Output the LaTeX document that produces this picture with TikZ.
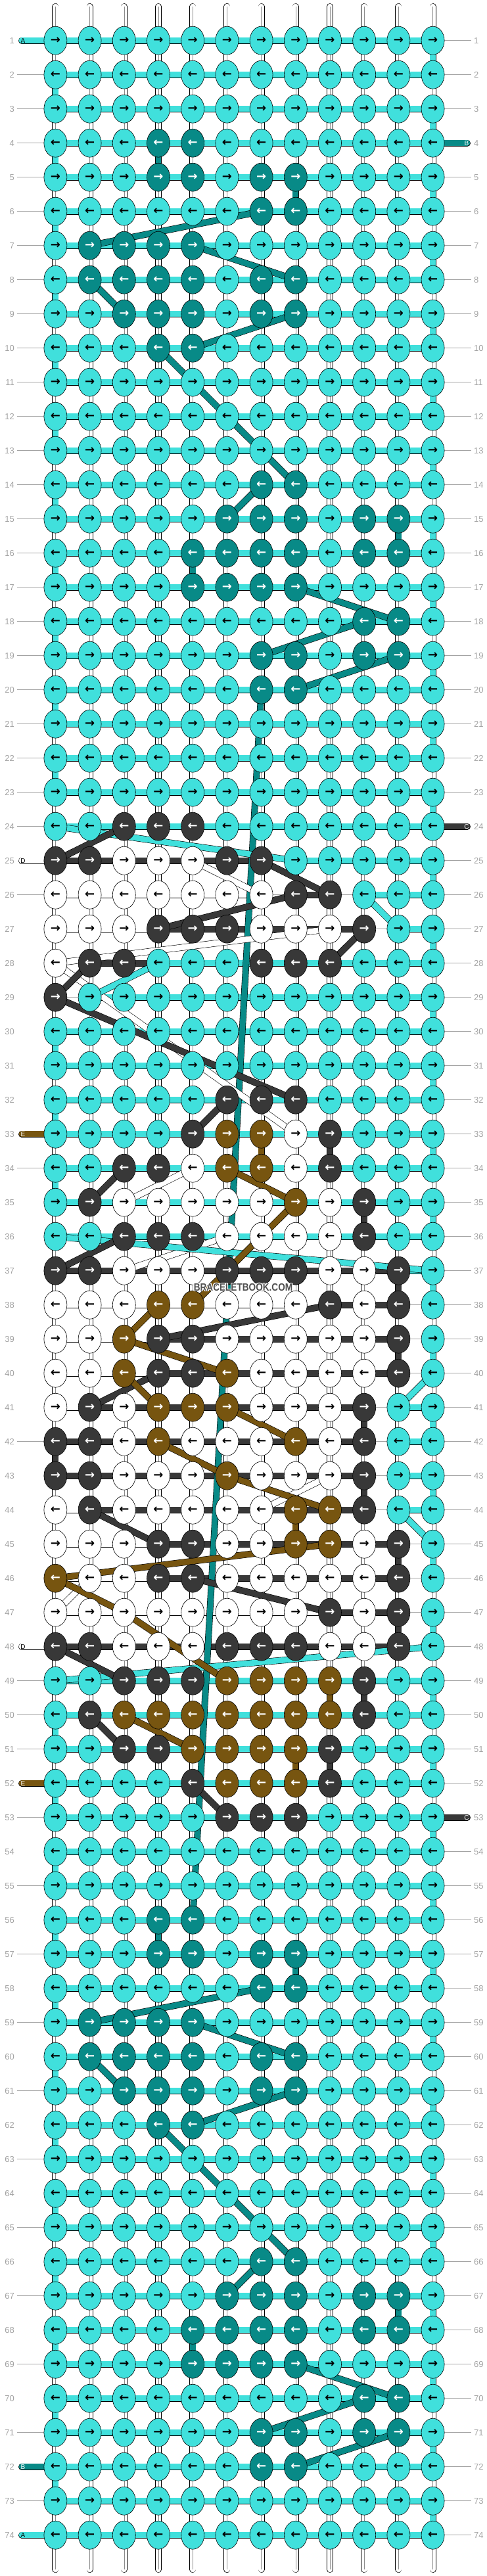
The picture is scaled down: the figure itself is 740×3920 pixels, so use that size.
\documentclass[tikz,border=0pt]{standalone}
\usepackage{fontspec}
\setmainfont{Liberation Sans}
\newfontfamily\arrowfont{DejaVu Sans}
\usetikzlibrary{shapes.geometric}

\definecolor{strandA}{HTML}{40E0DC}
\definecolor{strandB}{HTML}{088A87}
\definecolor{strandC}{HTML}{383838}
\definecolor{strandD}{HTML}{FFFFFF}
\definecolor{strandE}{HTML}{775510}
\definecolor{tipA}{HTML}{000000}
\definecolor{tipB}{HTML}{FFFFFF}
\definecolor{tipC}{HTML}{FFFFFF}
\definecolor{tipD}{HTML}{000000}
\definecolor{tipE}{HTML}{FFFFFF}
\definecolor{rowgray}{HTML}{A3A3A3}
\definecolor{markgray}{HTML}{505050}

\pgfdeclarelayer{strands}
\pgfdeclarelayer{threads}
\pgfsetlayers{strands,threads,main}

\begin{document}
\begin{tikzpicture}[x=1pt, y=-1pt,
    knot/.style={ellipse, draw=black, line width=0.6pt, fill=strand#1, text=tip#1,
      minimum width=35pt, minimum height=43pt, inner sep=0pt,
      font=\arrowfont\bfseries\fontsize{18}{18}\selectfont},
    thread/.style={draw=black, line width=0.6pt, double=strand#1, double distance=8.8pt},
    warp/.style={thread=D, line cap=round},
    nothread/.style={draw=rowgray, line width=0.5pt},
    rowlabel/.style={text=rowgray, inner sep=0pt, font=\fontsize{13}{13}\selectfont},
    tag/.style={text=tip#1, inner sep=0pt, font=\fontsize{10}{10}\selectfont},
    watermark/.style={text=#1, inner sep=0pt, font=\bfseries\fontsize{16}{16}\selectfont}
  ]
  \useasboundingbox (0,0) rectangle (740,3920);

  % knots
  \foreach \knots [count=\r] in {
    {A,A,A,A,A,A,A,A,A,A,A,A}, {A,A,A,A,A,A,A,A,A,A,A,A}, {A,A,A,A,A,A,A,A,A,A,A,A},
    {A,A,A,B,B,A,A,A,A,A,A,A}, {A,A,A,B,B,A,B,B,A,A,A,A}, {A,A,A,A,A,A,B,B,A,A,A,A},
    {A,B,B,B,B,A,A,A,A,A,A,A}, {A,B,B,B,B,A,B,B,A,A,A,A}, {A,A,B,B,B,A,B,B,A,A,A,A},
    {A,A,A,B,B,A,A,A,A,A,A,A}, {A,A,A,A,A,A,A,A,A,A,A,A}, {A,A,A,A,A,A,A,A,A,A,A,A},
    {A,A,A,A,A,A,A,A,A,A,A,A}, {A,A,A,A,A,A,B,B,A,A,A,A}, {A,A,A,A,A,B,B,B,A,B,B,A},
    {A,A,A,A,B,B,B,B,A,B,B,A}, {A,A,A,A,B,B,B,B,A,A,A,A}, {A,A,A,A,A,A,A,A,A,B,B,A},
    {A,A,A,A,A,A,B,B,A,B,B,A}, {A,A,A,A,A,A,B,B,A,A,A,A}, {A,A,A,A,A,A,A,A,A,A,A,A},
    {A,A,A,A,A,A,A,A,A,A,A,A}, {A,A,A,A,A,A,A,A,A,A,A,A}, {A,A,C,C,C,A,A,A,A,A,A,A},
    {C,C,D,D,D,C,C,A,A,A,A,A}, {D,D,D,D,D,D,D,C,C,A,A,A}, {D,D,D,C,C,C,D,D,D,C,A,A},
    {D,C,C,A,A,A,C,C,C,A,A,A}, {C,A,A,A,A,A,A,A,A,A,A,A}, {A,A,A,A,A,A,A,A,A,A,A,A},
    {A,A,A,A,A,A,A,A,A,A,A,A}, {A,A,A,A,A,C,C,C,A,A,A,A}, {A,A,A,A,C,E,E,D,C,A,A,A},
    {A,A,C,C,D,E,E,D,C,A,A,A}, {A,C,D,D,D,D,D,E,D,C,A,A}, {A,A,C,C,C,D,D,D,D,C,A,A},
    {C,C,D,D,D,C,C,C,D,D,C,A}, {D,D,D,E,E,D,D,D,C,D,C,A}, {D,D,E,C,C,D,D,D,D,D,C,A},
    {D,D,E,C,C,E,D,D,D,D,C,A}, {D,C,D,E,E,E,D,D,D,C,A,A}, {C,C,D,E,D,D,D,E,D,C,A,A},
    {C,C,D,D,D,E,D,D,D,C,A,A}, {D,C,D,D,D,D,D,E,E,C,A,A}, {D,D,D,C,C,D,D,E,E,D,C,A},
    {E,D,D,C,C,D,D,D,D,D,C,A}, {D,D,D,D,D,D,D,D,C,D,C,A}, {C,C,D,D,D,C,C,C,D,D,C,A},
    {A,A,C,C,C,E,E,E,E,C,A,A}, {A,C,E,E,E,E,E,E,E,C,A,A}, {A,A,C,C,E,E,E,E,C,A,A,A},
    {A,A,A,A,C,E,E,E,C,A,A,A}, {A,A,A,A,A,C,C,C,A,A,A,A}, {A,A,A,A,A,A,A,A,A,A,A,A},
    {A,A,A,A,A,A,A,A,A,A,A,A}, {A,A,A,B,B,A,A,A,A,A,A,A}, {A,A,A,B,B,A,B,B,A,A,A,A},
    {A,A,A,A,A,A,B,B,A,A,A,A}, {A,B,B,B,B,A,A,A,A,A,A,A}, {A,B,B,B,B,A,B,B,A,A,A,A},
    {A,A,B,B,B,A,B,B,A,A,A,A}, {A,A,A,B,B,A,A,A,A,A,A,A}, {A,A,A,A,A,A,A,A,A,A,A,A},
    {A,A,A,A,A,A,A,A,A,A,A,A}, {A,A,A,A,A,A,A,A,A,A,A,A}, {A,A,A,A,A,A,B,B,A,A,A,A},
    {A,A,A,A,A,B,B,B,A,B,B,A}, {A,A,A,A,B,B,B,B,A,B,B,A}, {A,A,A,A,B,B,B,B,A,A,A,A},
    {A,A,A,A,A,A,A,A,A,B,B,A}, {A,A,A,A,A,A,B,B,A,B,B,A}, {A,A,A,A,A,A,B,B,A,A,A,A},
    {A,A,A,A,A,A,A,A,A,A,A,A}, {A,A,A,A,A,A,A,A,A,A,A,A}%
  }{
    \foreach \k [count=\c] in \knots {
      \ifodd\r \def\knotarrow{→}\else \def\knotarrow{←}\fi
      \node[knot=\k] (k\r-\c) at ({84.4+52.2*(\c-1)}, {61.7+52*(\r-1)}) {\knotarrow};
    }
  }

  \foreach \dx/\dy [count=\i] in {-1.2/0, 1.2/0, 0/-1.2, 0/1.2, -0.9/-0.9, 0.9/0.9, -0.9/0.9, 0.9/-0.9}
    \node[watermark=white] (halo\i) at (370+\dx, 1959+\dy) {\scalebox{0.85}[1]{BRACELETBOOK.COM}};
  \node[watermark=markgray] (mark) at (370,1959) {\scalebox{0.85}[1]{BRACELETBOOK.COM}};

  \begin{pgfonlayer}{strands}
    \foreach \c in {1,...,12} {
      \coordinate (top\c) at ({84.4+52.2*(\c-1)}, 10);
      \coordinate (bottom\c) at ({84.4+52.2*(\c-1)}, 3910);
      \draw[warp] (top\c) -- (bottom\c);
      \draw[black!45, line width=0.4pt] (top\c) -- (bottom\c);
    }
    \foreach \r in {1,...,23,49,50,...,74}
      \foreach \c in {1,...,11} {
        \pgfmathtruncatemacro\n{\c+1}
        \draw[thread=A] (k\r-\c.center) -- (k\r-\n.center);
      }
    \foreach \gaps [count=\r from 24] in {
      {A,A,A,A,A,A,A,A,A,A,A}, {C,C,C,C,C,C,N,A,A,A,A}, {D,D,D,D,D,D,N,C,N,A,A},
      {D,D,D,C,C,C,C,C,C,N,A}, {N,C,C,A,A,A,A,A,A,A,A}, {N,A,A,A,A,A,A,A,A,A,A},
      {A,A,A,A,A,A,A,A,A,A,A}, {A,A,A,A,A,A,A,A,A,A,A}, {A,A,A,A,A,A,A,A,A,A,A},
      {A,A,A,A,A,A,A,A,A,A,A}, {A,A,A,A,A,A,A,A,A,A,A}, {A,A,A,A,A,A,A,A,A,A,A},
      {A,A,A,A,A,A,A,A,A,A,A}, {C,C,C,C,C,C,C,C,C,C,A}, {D,D,D,D,D,D,D,D,C,C,N},
      {D,D,D,C,C,C,C,C,C,C,N}, {D,D,D,C,C,C,C,C,C,C,N}, {D,C,C,C,C,C,C,C,C,N,A},
      {C,C,C,C,C,C,C,C,C,N,A}, {C,C,C,C,C,C,C,C,C,N,A}, {D,C,C,C,C,C,C,C,C,N,A},
      {D,D,D,C,C,C,C,C,C,C,N}, {D,D,D,C,C,C,C,C,C,C,N}, {D,D,D,D,D,D,D,D,C,C,N},
      {C,C,C,C,C,C,C,C,C,C,N}%
    }{
      \foreach \g [count=\c] in \gaps {
        \pgfmathtruncatemacro\n{\c+1}
        \if\g N\draw[nothread] (k\r-\c.center) -- (k\r-\n.center);
        \else\draw[thread=\g] (k\r-\c.center) -- (k\r-\n.center);\fi
      }
    }
    % turns between rows
    \foreach \r in {1,3,...,73} {
      \pgfmathtruncatemacro\n{\r+1}
      \draw[thread=A] (k\r-12.center) -- (k\n-12.center);
    }
    \foreach \r in {2,4,...,22,30,32,34,50,52,...,72} {
      \pgfmathtruncatemacro\n{\r+1}
      \draw[thread=A] (k\r-1.center) -- (k\n-1.center);
    }
    \foreach \s/\r/\c in {B/4/4, B/5/8, B/15/11, B/16/5, B/56/4, B/57/8, B/67/11, B/68/5,
        E/33/7, C/33/9, C/35/10, C/37/11, C/39/11, C/41/10, C/43/10, C/42/1,
        E/44/8, C/45/11, C/47/11, E/49/9, C/49/10, E/51/8, C/51/9} {
      \pgfmathtruncatemacro\n{\r+1}
      \draw[thread=\s] (k\r-\c.center) -- (k\n-\c.center);
    }
    % row numbers
    \foreach \r in {1,...,74} {
      \node[rowlabel, anchor=east] (left\r) at (22, {61.7+52*(\r-1)}) {\r};
      \node[rowlabel, anchor=west] (right\r) at (721, {61.7+52*(\r-1)}) {\r};
    }
    \foreach \r in {2,...,24,26,...,32,34,...,47,49,50,51,53,...,71,73}
      \draw[nothread] ([xshift=4pt]left\r.east) -- (k\r-1.center);
    \foreach \r in {1,2,3,5,6,...,23,25,26,...,52,54,55,...,74}
      \draw[nothread] (k\r-12.center) -- ([xshift=-4pt]right\r.west);
    % loose ends
    \foreach \r/\s in {1/A, 25/D, 33/E, 48/D, 52/E, 72/B, 74/A} {
      \coordinate (tailL\r) at (33, {61.7+52*(\r-1)});
      \draw[thread=\s, line cap=round] (tailL\r) -- (k\r-1.center);
    }
    \foreach \r/\s in {4/B, 24/C, 53/C} {
      \coordinate (tailR\r) at (711, {61.7+52*(\r-1)});
      \draw[thread=\s, line cap=round] (k\r-12.center) -- (tailR\r);
    }
  \end{pgfonlayer}

  \foreach \r/\s in {1/A, 25/D, 33/E, 48/D, 52/E, 72/B, 74/A}
    \node[tag=\s] at ([xshift=2pt]tailL\r) {\s};
  \foreach \r/\s in {4/B, 24/C, 53/C}
    \node[tag=\s] at ([xshift=-1pt]tailR\r) {\s};

  \begin{pgfonlayer}{threads}
    \foreach \s/\ra/\ca/\rb/\cb in {
        B/6/7/7/2, B/7/5/8/8, B/8/2/9/3, B/9/8/10/5, B/10/4/14/8, B/14/7/15/6,
        B/17/8/18/11, B/18/10/19/7, B/19/11/20/8, B/20/7/56/5,
        B/58/7/59/2, B/59/5/60/8, B/60/2/61/3, B/61/8/62/5, B/62/4/66/8, B/66/7/67/6,
        B/69/8/70/11, B/70/10/71/7, B/71/11/72/8,
        D/25/5/26/7, D/27/9/28/1, D/28/1/33/8, D/34/5/35/3, D/36/6/37/3,
        D/43/9/44/7, D/46/2/47/1,
        A/24/1/25/8, A/26/10/27/11, A/28/4/29/2, A/36/1/37/12, A/40/12/41/11,
        A/44/11/45/12, A/48/12/49/1,
        C/24/3/25/1, C/25/7/26/9, C/26/8/27/4, C/27/10/28/9, C/28/2/29/1, C/29/1/32/8,
        C/32/6/33/5, C/34/3/35/2, C/36/3/37/1, C/38/9/39/4, C/40/4/41/2, C/44/2/45/4,
        C/46/5/47/9, C/48/1/49/3, C/50/2/51/3, C/52/5/53/6,
        E/34/6/35/8, E/35/8/38/5, E/38/4/39/3, E/39/3/40/6, E/40/3/41/4, E/41/6/42/8,
        E/42/4/43/6, E/43/6/44/9, E/45/9/46/1, E/46/1/47/3, E/47/3/49/6, E/50/3/51/5}
      \draw[thread=\s] (k\ra-\ca.center) -- (k\rb-\cb.center);
  \end{pgfonlayer}
\end{tikzpicture}
\end{document}
